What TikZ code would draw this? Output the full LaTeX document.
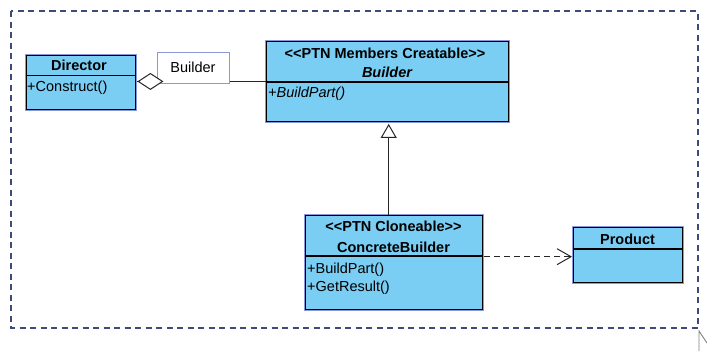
\documentclass[tikz,border=0pt]{standalone}
\usepackage{fontspec}
\setmainfont{Liberation Sans}
\usetikzlibrary{arrows.meta,calc}

\definecolor{classfill}{RGB}{122,205,243}
\definecolor{classrim}{RGB}{140,152,214}
\definecolor{framecol}{RGB}{62,74,120}

\newcommand{\umlfont}{\fontsize{14.5}{16}\selectfont}

\tikzset{
  classbox/.style={anchor=north west, inner sep=0pt, fill=classfill, draw=black,
    line width=1.4pt, preaction={draw=classrim, line width=3.4pt}},
  sep/.style={line width=1.1pt},
  txt/.style={inner sep=0pt, font=\umlfont},
  btxt/.style={txt, font=\umlfont\bfseries},
  optxt/.style={txt, anchor=west},
  conn/.style={line width=1pt, draw=black!85},
}

\begin{document}
\begin{tikzpicture}[x=1pt, y=-1pt]
\useasboundingbox[fill=white] (0,0) rectangle (707,351);

% package frame
\draw[framecol, line width=1.2pt, dash pattern=on 6pt off 4.5pt] (11,11) rectangle (698,328);
% pointer at the frame corner
\draw[gray, line width=0.9pt] (699,330) -- (699,351) (699,331) -- (707,343);

% Director
\node[classbox, minimum width=109pt, minimum height=54pt] (dir) at (25.5,54.5) {};
\draw[sep] (25.5,75.5) -- (134.5,75.5);
\node[btxt] (dirname) at (79,65) {Director};
\node[optxt] (dirop) at (27,88) {+Construct()};

% Builder
\node[classbox, minimum width=242pt, minimum height=80.5pt] (bld) at (266,40.5) {};
\draw[sep] (266,82) -- (508,82);
\node[btxt] (bldst) at (385,53) {<{}<PTN Members Creatable>{}>};
\node[btxt, font=\umlfont\bfseries\itshape] (bldname) at (387,72) {Builder};
\node[optxt, font=\umlfont\itshape] (bldop) at (268,94) {+BuildPart()};

% ConcreteBuilder
\node[classbox, minimum width=177pt, minimum height=94.5pt] (cb) at (305,214.5) {};
\draw[sep] (305,256) -- (482,256);
\node[btxt] (cbst) at (393.5,226) {<{}<PTN Cloneable>{}>};
\node[btxt] (cbname) at (393.5,247) {ConcreteBuilder};
\node[optxt] (cbop1) at (307,270) {+BuildPart()};
\node[optxt] (cbop2) at (307,288) {+GetResult()};

% Product
\node[classbox, minimum width=109pt, minimum height=55pt] (prod) at (573,227) {};
\draw[sep] (573,249) -- (682,249);
\node[btxt] (prodname) at (627.5,239) {Product};

% aggregation Director <>-- Builder, with role name
\coordinate (aggend) at ($(dir.east |- bld.west)+(1.5,0)$);
\draw[conn] (bld.west) -- (aggend);
\node[draw=classrim, fill=white, line width=0.8pt, minimum width=72pt, minimum height=31pt,
      inner sep=0pt, font=\umlfont] (role) at (193,67.5) {Builder};
\draw[conn, -{Diamond[fill=white, length=26pt, width=17pt]}] ($(aggend)+(26,0)$) -- (aggend);

% generalization ConcreteBuilder --|> Builder
\draw[conn, -{Triangle[open, fill=white, length=14pt, width=16pt]}]
  ($(cb.north -| bld.south)+(1,0)$) -- ($(bld.south)+(1,1.5)$);

% dependency ConcreteBuilder ..> Product
\draw[conn, dash pattern=on 6pt off 4pt, -{Straight Barb[length=14pt, width=16pt]}]
  ($(cb.east |- prod.west)+(1,1.5)$) -- ($(prod.west)+(-1,1.5)$);
\end{tikzpicture}
\end{document}
